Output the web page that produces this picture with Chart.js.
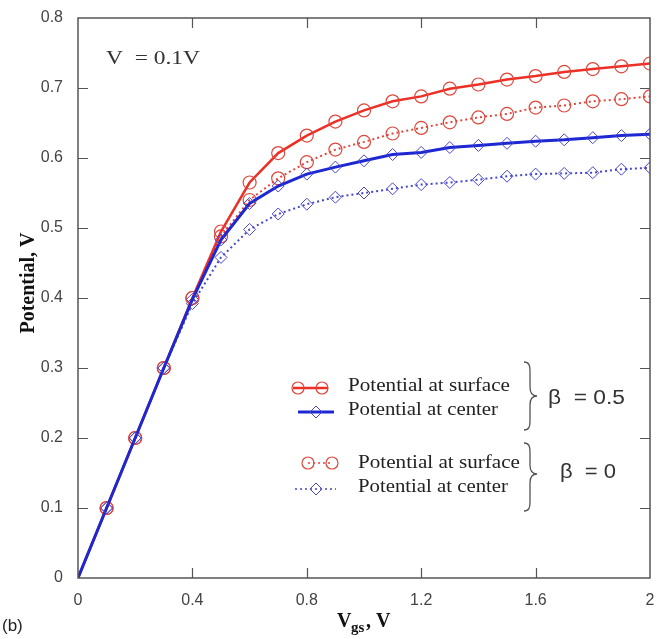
<!DOCTYPE html>
<html>
<head>
<meta charset="utf-8">
<script src="https://cdn.jsdelivr.net/npm/chart.js@4.4.1/dist/chart.umd.min.js"></script>
<style>
  html, body { margin: 0; padding: 0; background: #fff; }
  canvas { display: block; }
</style>
</head>
<body>
<canvas id="potentialChart" width="661" height="639"></canvas>
<script>
// gate voltage sweep
const vgs = [0, 0.1, 0.2, 0.3, 0.4, 0.5, 0.6, 0.7, 0.8, 0.9, 1.0, 1.1, 1.2, 1.3, 1.4, 1.5, 1.6, 1.7, 1.8, 1.9, 2.0];

// beta = 0.5
const surfaceBeta05 = [0, 0.1, 0.2, 0.3, 0.4, 0.495, 0.565, 0.607, 0.632, 0.652, 0.668, 0.681, 0.688, 0.699, 0.705, 0.712, 0.717, 0.723, 0.727, 0.731, 0.735];
const centerBeta05 = [0, 0.1, 0.2, 0.3, 0.398, 0.483, 0.535, 0.560, 0.577, 0.587, 0.596, 0.605, 0.608, 0.615, 0.618, 0.621, 0.624, 0.626, 0.629, 0.632, 0.634];

// beta = 0
const surfaceBeta0 = [0, 0.1, 0.2, 0.3, 0.4, 0.488, 0.540, 0.571, 0.594, 0.612, 0.623, 0.635, 0.643, 0.651, 0.658, 0.663, 0.672, 0.675, 0.681, 0.684, 0.688];
const centerBeta0 = [0, 0.1, 0.2, 0.3, 0.392, 0.458, 0.498, 0.520, 0.534, 0.544, 0.550, 0.556, 0.562, 0.565, 0.569, 0.574, 0.577, 0.578, 0.579, 0.584, 0.586];

const xTicks = [0, 0.4, 0.8, 1.2, 1.6, 2];
const yTicks = [0, 0.1, 0.2, 0.3, 0.4, 0.5, 0.6, 0.7, 0.8];

const RED = 'rgb(236, 48, 38)';
const RED_LIGHT = 'rgb(222, 70, 60)';
const BLUE = 'rgb(30, 40, 210)';
const BLUE_LIGHT = 'rgb(70, 70, 205)';

function toPoints(ys) {
    return vgs.map((x, i) => ({ x: x, y: ys[i] }));
}

const hideFirst = r => ctx => ctx.dataIndex === 0 ? 0 : r;

const datasets = [
    {
        label: 'Potential at center (β = 0.5)',
        data: toPoints(centerBeta05),
        borderColor: BLUE,
        borderWidth: 3,
        pointStyle: 'rectRot',
        pointRadius: hideFirst(6),
        pointBorderColor: BLUE_LIGHT,
        pointBorderWidth: 1,
        pointBackgroundColor: 'rgba(0,0,0,0)',
        order: 0
    },
    {
        label: 'Potential at surface (β = 0.5)',
        data: toPoints(surfaceBeta05),
        borderColor: RED,
        borderWidth: 2.5,
        pointStyle: 'circle',
        pointRadius: hideFirst(6.5),
        pointBorderColor: RED_LIGHT,
        pointBorderWidth: 1.2,
        pointBackgroundColor: 'rgba(0,0,0,0)',
        order: 1
    },
    {
        label: 'Potential at center (β = 0)',
        data: toPoints(centerBeta0),
        borderColor: BLUE_LIGHT,
        borderWidth: 2,
        borderDash: [2, 3],
        pointStyle: 'rectRot',
        pointRadius: hideFirst(6),
        pointBorderColor: BLUE_LIGHT,
        pointBorderWidth: 1,
        pointBackgroundColor: 'rgba(0,0,0,0)',
        order: 2
    },
    {
        label: 'Potential at surface (β = 0)',
        data: toPoints(surfaceBeta0),
        borderColor: RED_LIGHT,
        borderWidth: 2,
        borderDash: [2, 3],
        pointStyle: 'circle',
        pointRadius: hideFirst(6.5),
        pointBorderColor: RED_LIGHT,
        pointBorderWidth: 1.2,
        pointBackgroundColor: 'rgba(0,0,0,0)',
        order: 3
    }
];

function drawCircle(c, x, y, r, color) {
    c.beginPath();
    c.arc(x, y, r, 0, Math.PI * 2);
    c.strokeStyle = color;
    c.lineWidth = 1.2;
    c.stroke();
}

function drawDiamond(c, x, y, r, color) {
    c.beginPath();
    c.moveTo(x, y - r);
    c.lineTo(x + r, y);
    c.lineTo(x, y + r);
    c.lineTo(x - r, y);
    c.closePath();
    c.strokeStyle = color;
    c.lineWidth = 1;
    c.stroke();
}

function drawBrace(c, x, top, bottom, tipY) {
    c.beginPath();
    c.moveTo(x - 6, top);
    c.bezierCurveTo(x - 1, top, x, top + 3, x, top + 10);
    c.lineTo(x, tipY - 9);
    c.bezierCurveTo(x, tipY - 3, x + 2, tipY, x + 7, tipY);
    c.bezierCurveTo(x + 2, tipY, x, tipY + 3, x, tipY + 9);
    c.lineTo(x, bottom - 10);
    c.bezierCurveTo(x, bottom - 3, x - 1, bottom, x - 6, bottom);
    c.strokeStyle = '#555';
    c.lineWidth = 1.3;
    c.stroke();
}

// text squeezed or stretched to a given width
function fillToWidth(c, text, x, y, width) {
    const w = c.measureText(text).width;
    c.save();
    c.translate(x, y);
    c.scale(width / w, 1);
    c.fillText(text, 0, 0);
    c.restore();
}

// frame, inward ticks and annotations
const decorations = {
    id: 'decorations',
    afterDraw(chart) {
        const c = chart.ctx;
        const a = chart.chartArea;
        const xs = chart.scales.x;
        const ys = chart.scales.y;
        c.save();

        c.strokeStyle = '#555';
        c.lineWidth = 1.5;
        c.strokeRect(a.left, a.top, a.right - a.left, a.bottom - a.top);

        c.lineWidth = 1.2;
        c.beginPath();
        xTicks.slice(1, -1).forEach(v => {
            const px = Math.round(xs.getPixelForValue(v)) + 0.5;
            c.moveTo(px, a.bottom); c.lineTo(px, a.bottom - 10);
            c.moveTo(px, a.top); c.lineTo(px, a.top + 10);
        });
        yTicks.slice(1, -1).forEach(v => {
            const py = Math.round(ys.getPixelForValue(v)) + 0.5;
            c.moveTo(a.left, py); c.lineTo(a.left + 10, py);
            c.moveTo(a.right, py); c.lineTo(a.right - 10, py);
        });
        c.stroke();

        // axis titles
        c.fillStyle = '#111';
        c.font = 'bold 20px "Liberation Serif"';
        c.textAlign = 'center';
        c.textBaseline = 'middle';
        c.save();
        c.translate(29, 283);
        c.rotate(-Math.PI / 2);
        c.fillText('Potential, V', 0, 0);
        c.restore();

        c.textAlign = 'left';
        c.textBaseline = 'alphabetic';
        c.font = 'bold 20px "Liberation Serif"';
        c.fillText('V', 337, 627);
        c.font = 'bold 15px "Liberation Serif"';
        c.fillText('gs', 351, 632);
        c.font = 'bold 20px "Liberation Serif"';
        c.fillText(', V', 366, 627);

        c.font = '17px "Liberation Sans"';
        c.fillStyle = '#222';
        c.fillText('(b)', 2, 631);

        c.font = '19px "Liberation Serif"';
        c.fillStyle = '#333';
        fillToWidth(c, 'V  = 0.1V', 106, 64, 94);

        // legend samples
        c.lineWidth = 2.5;
        c.strokeStyle = RED;
        c.beginPath(); c.moveTo(293, 388); c.lineTo(328, 388); c.stroke();
        drawCircle(c, 298, 388, 6, RED_LIGHT);
        drawCircle(c, 322, 388, 6, RED_LIGHT);

        c.lineWidth = 3;
        c.strokeStyle = BLUE;
        c.beginPath(); c.moveTo(298, 412); c.lineTo(334, 412); c.stroke();
        drawDiamond(c, 316, 412, 6, BLUE_LIGHT);

        c.setLineDash([2, 3]);
        c.lineWidth = 1.5;
        c.strokeStyle = RED_LIGHT;
        c.beginPath(); c.moveTo(308, 463); c.lineTo(332, 463); c.stroke();
        c.strokeStyle = BLUE_LIGHT;
        c.beginPath(); c.moveTo(295, 489); c.lineTo(336, 489); c.stroke();
        c.setLineDash([]);
        drawCircle(c, 308, 463, 6, RED_LIGHT);
        drawCircle(c, 332, 463, 6, RED_LIGHT);
        drawDiamond(c, 316, 489, 6, BLUE_LIGHT);

        c.fillStyle = '#222';
        c.font = '19px "Liberation Serif"';
        c.textBaseline = 'middle';
        fillToWidth(c, 'Potential at surface', 348, 386, 162);
        fillToWidth(c, 'Potential at center', 348, 410, 150);
        fillToWidth(c, 'Potential at surface', 358, 463, 162);
        fillToWidth(c, 'Potential at center', 358, 487, 150);

        drawBrace(c, 530, 362, 430, 396);
        drawBrace(c, 530, 443, 511, 474);

        c.fillStyle = '#333';
        c.font = '20px "Liberation Sans"';
        fillToWidth(c, 'β  = 0.5', 548, 398, 77);
        fillToWidth(c, 'β  = 0', 560, 472, 56);

        c.restore();
    }
};

const chartConfig = {
    type: 'line',
    data: { datasets: datasets },
    options: {
        responsive: false,
        animation: false,
        layout: { padding: { top: 18, right: 11, left: 0, bottom: 0 } },
        plugins: {
            legend: { display: false },
            tooltip: { enabled: false }
        },
        elements: { line: { tension: 0 } },
        scales: {
            x: {
                type: 'linear',
                min: 0,
                max: 2,
                afterBuildTicks: scale => { scale.ticks = xTicks.map(v => ({ value: v })); },
                afterFit: scale => { scale.height = 61; },
                grid: { display: false },
                border: { display: false },
                ticks: {
                    padding: 5,
                    color: '#444',
                    font: { family: 'Liberation Sans', size: 16 },
                    maxRotation: 0,
                    callback: v => String(+v.toFixed(1))
                }
            },
            y: {
                type: 'linear',
                min: 0,
                max: 0.8,
                afterBuildTicks: scale => { scale.ticks = yTicks.map(v => ({ value: v })); },
                afterFit: scale => { scale.width = 78; },
                grid: { display: false },
                border: { display: false },
                ticks: {
                    padding: 7,
                    color: '#444',
                    font: { family: 'Liberation Sans', size: 16 },
                    callback: v => String(+v.toFixed(1))
                }
            }
        }
    },
    plugins: [decorations]
};

new Chart(document.getElementById('potentialChart').getContext('2d'), chartConfig);
</script>
</body>
</html>
